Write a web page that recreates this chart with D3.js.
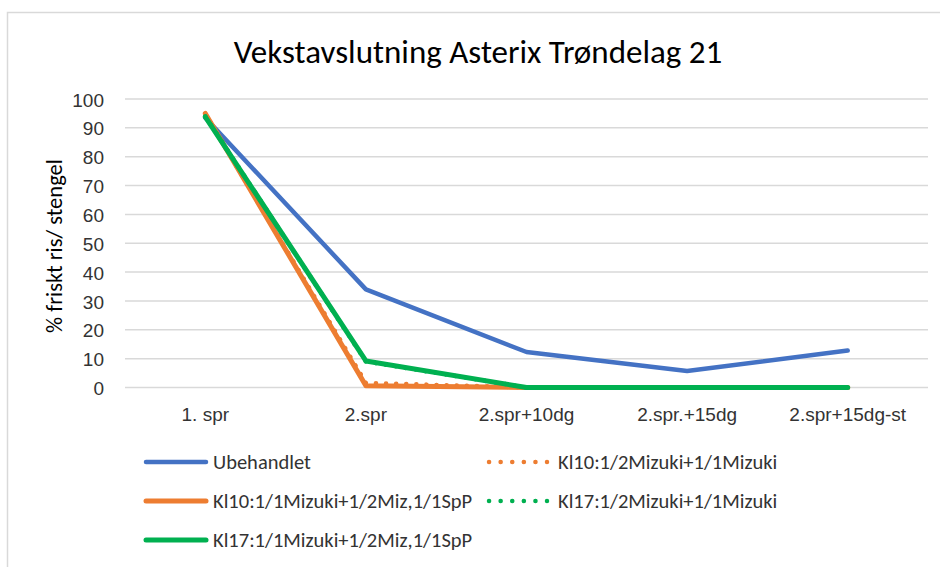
<!DOCTYPE html>
<html>
<head>
<meta charset="utf-8">
<script src="https://cdn.jsdelivr.net/npm/d3@7"></script>
<style>
  html, body { margin: 0; padding: 0; background: #fff; }
  svg { display: block; font-family: Carlito, Calibri, "Open Sans", sans-serif; }
</style>
</head>
<body>
<div id="vis"></div>
<script>
"use strict";
const categories = ["1. spr", "2.spr", "2.spr+10dg", "2.spr.+15dg", "2.spr+15dg-st"];
const ubehandlet = [93.5, 34, 12.3, 5.7, 12.8];
const kl10Half = [94.8, 1.6, 0, 0, 0];
const kl10Full = [95, 0.6, 0, 0, 0];
const kl17Half = [94, 9, 0, 0, 0];
const kl17Full = [93.8, 9.2, 0, 0, 0];
const yTicks = [0, 10, 20, 30, 40, 50, 60, 70, 80, 90, 100];

const series = [
  {name: "Ubehandlet", values: ubehandlet, color: "#4472C4", dotted: false},
  {name: "Kl10:1/2Mizuki+1/1Mizuki", values: kl10Half, color: "#ED7D31", dotted: true},
  {name: "Kl10:1/1Mizuki+1/2Miz,1/1SpP", values: kl10Full, color: "#ED7D31", dotted: false},
  {name: "Kl17:1/2Mizuki+1/1Mizuki", values: kl17Half, color: "#00B050", dotted: true},
  {name: "Kl17:1/1Mizuki+1/2Miz,1/1SpP", values: kl17Full, color: "#00B050", dotted: false}
];

const [width, height] = [940, 567];
const svg = d3.select("#vis").append("svg")
  .attr("width", width).attr("height", height);

// chart border
svg.append("rect")
  .attr("x", 7.5).attr("y", 12.5)
  .attr("width", 960).attr("height", 600)
  .attr("fill", "none").attr("stroke", "#d9d9d9").attr("stroke-width", 1.5);

svg.append("text")
  .attr("x", 478).attr("y", 63)
  .attr("text-anchor", "middle")
  .attr("font-size", 33).attr("fill", "#000")
  .text("Vekstavslutning Asterix Trøndelag 21");

const x = d3.scaleBand().domain(categories).range([125, 928]);
const y = d3.scaleLinear().domain([0, 100]).range([387.5, 99]);

// gridlines
svg.append("g")
  .selectAll("line")
  .data(yTicks)
  .join("line")
    .attr("x1", 125).attr("x2", 928)
    .attr("y1", d => y(d)).attr("y2", d => y(d))
    .attr("stroke", "#d9d9d9").attr("stroke-width", 1.5);

const yAxis = svg.append("g")
  .attr("transform", "translate(104,1)")
  .call(d3.axisLeft(y).tickValues(yTicks).tickSize(0).tickPadding(0));
yAxis.select(".domain").remove();
yAxis.selectAll("text").attr("font-size", 19).attr("fill", "#333").attr("font-family", null);

const xAxis = svg.append("g")
  .attr("transform", "translate(0,387.5)")
  .call(d3.axisBottom(x).tickSize(0).tickPadding(20));
xAxis.select(".domain").remove();
xAxis.selectAll("text").attr("font-size", 19).attr("fill", "#333").attr("font-family", null);

svg.append("text")
  .attr("transform", "translate(62,246) rotate(-90)")
  .attr("text-anchor", "middle")
  .attr("font-size", 22.5).attr("fill", "#000")
  .text("% friskt ris/ stengel");

const line = d3.line()
  .x((d, i) => x(categories[i]) + x.bandwidth() / 2)
  .y(d => y(d));

function styleLine(sel, s) {
  sel.attr("fill", "none")
    .attr("stroke", s.color)
    .attr("stroke-linejoin", "round")
    .attr("stroke-linecap", "round");
  if (s.dotted) sel.attr("stroke-width", 4.5).attr("stroke-dasharray", "0.1 10");
  else sel.attr("stroke-width", s.color === "#4472C4" ? 4.5 : 5);
}

series.forEach(s => {
  svg.append("path").attr("d", line(s.values)).call(styleLine, s);
});

// legend
const legendPos = [
  [146, 462], [489, 462],
  [146, 501], [489, 501],
  [146, 540]
];
series.forEach((s, i) => {
  const [lx, ly] = legendPos[i];
  const g = svg.append("g").attr("transform", `translate(${lx},${ly})`);
  g.append("line")
    .attr("x1", 0).attr("x2", s.dotted ? 58 : 60)
    .attr("y1", 0).attr("y2", 0)
    .call(styleLine, s)
    .attr("stroke-dasharray", s.dotted ? "0.1 11.5" : null);
  g.append("text")
    .attr("x", s.dotted ? 69 : 67).attr("y", 7)
    .attr("font-size", 20.5).attr("fill", "#333")
    .text(s.name);
});
</script>
</body>
</html>
